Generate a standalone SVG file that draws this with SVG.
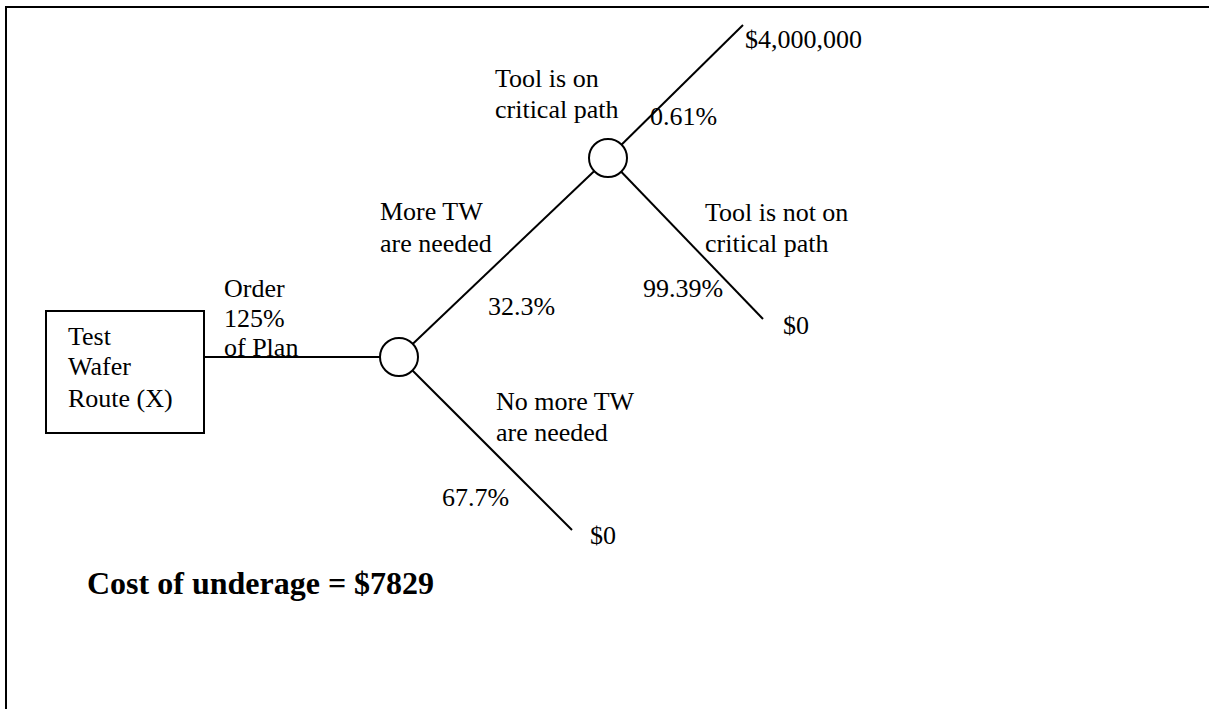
<svg xmlns="http://www.w3.org/2000/svg" width="1209" height="709" viewBox="0 0 1209 709">
  <style>
    .t { font-family: "Liberation Serif", "Times New Roman", serif; font-size: 26px; fill: #000; }
    .b { font-family: "Liberation Serif", "Times New Roman", serif; font-size: 32px; font-weight: bold; fill: #000; }
    .ln { stroke: #000; stroke-width: 2; fill: none; }
    .node { stroke: #000; stroke-width: 2; fill: #fff; }
  </style>
  <rect width="1209" height="709" fill="#fff"/>
  <!-- page frame (top and left edges) -->
  <path d="M6,709 V7 H1209" class="ln"/>

  <g id="connectors">
    <line x1="204" y1="357" x2="399" y2="357" class="ln" stroke-width="1.6"/>
    <line x1="399" y1="357" x2="608" y2="158" class="ln"/>
    <line x1="399" y1="357" x2="572" y2="530" class="ln"/>
    <line x1="608" y1="158" x2="743" y2="25" class="ln"/>
    <line x1="608" y1="158" x2="763" y2="319" class="ln"/>
  </g>

  <g id="decision-test-wafer-route">
    <rect x="46" y="311" width="158" height="122" class="node" stroke-width="1.6"/>
    <text class="t" x="68" y="345">Test</text>
    <text class="t" x="68" y="375">Wafer</text>
    <text class="t" x="68" y="407">Route (X)</text>
  </g>

  <g id="label-order">
    <text class="t" x="224" y="297">Order</text>
    <text class="t" x="224" y="327">125%</text>
    <text class="t" x="224" y="356">of Plan</text>
  </g>

  <g id="chance-more-tw">
    <circle cx="399" cy="357" r="19" class="node"/>
  </g>

  <g id="chance-critical-path">
    <circle cx="608" cy="158" r="19" class="node"/>
  </g>

  <g id="branch-labels">
    <text class="t" x="380" y="220">More TW</text>
    <text class="t" x="380" y="252">are needed</text>
    <text class="t" x="488" y="315">32.3%</text>

    <text class="t" x="496" y="410">No more TW</text>
    <text class="t" x="496" y="441">are needed</text>
    <text class="t" x="442" y="506">67.7%</text>

    <text class="t" x="495" y="87">Tool is on</text>
    <text class="t" x="495" y="118">critical path</text>
    <text class="t" x="650" y="125">0.61%</text>

    <text class="t" x="705" y="221">Tool is not on</text>
    <text class="t" x="705" y="252">critical path</text>
    <text class="t" x="643" y="297">99.39%</text>
  </g>

  <g id="outcome-4m">
    <text class="t" x="745" y="48">$4,000,000</text>
  </g>
  <g id="outcome-zero-upper">
    <text class="t" x="783" y="334">$0</text>
  </g>
  <g id="outcome-zero-lower">
    <text class="t" x="590" y="544">$0</text>
  </g>

  <text class="b" x="87" y="594">Cost of underage = $7829</text>
</svg>
